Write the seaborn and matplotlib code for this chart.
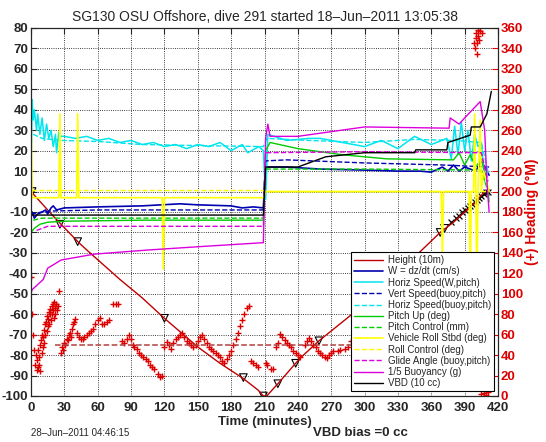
import numpy as np
import pandas as pd
import matplotlib
matplotlib.use('Agg')
import matplotlib.pyplot as plt
import seaborn as sns

# ---- data (time in minutes) ----
t_height = [0, 5, 10, 20, 27, 43, 51, 80, 100, 120, 150, 170, 191, 204, 209, 212, 222, 238, 243, 259, 275, 291, 320, 345, 368, 380, 390, 400, 408]
height = [0, -3, -6, -12, -16, -25, -29, -43, -52, -62, -76, -84, -91.5, -97, -100, -100, -94, -84, -81, -73, -66, -59, -44, -32, -20, -15, -10, -5, 0]

t_mark = [1, 26, 42, 120, 191, 209, 222, 238, 259, 368, 372]
v_mark = [0, -16, -24.5, -62, -91, -100, -94, -84, -73, -20, -18]
t_cluster = [378, 382, 385, 388, 390, 393, 395, 397, 399, 401, 403, 405, 407, 409, 411]
v_cluster = [-15, -13, -12, -10, -9, -8, -7, -6, -5, -4, -3, -2, -1, 0, 0]

t_w = [0, 1, 3, 6, 10, 13, 15, 18, 20, 23, 30, 60, 100, 134, 150, 180, 190, 200, 209, 210, 212, 230, 260, 300, 330, 350, 360, 370, 375, 380, 385, 390, 395, 400, 405, 410, 412]
w = [-12, -10, -13, -11, -10, -9, -11, -8, -7, -9, -8, -7.5, -7, -6, -6.5, -7, -8, -7.5, -8, 5, 12, 12, 11, 10.5, 10, 10, 9.5, 12, 10, 13, 10, 12, 11, 10, 15, 10, 8]

t_vs = [0, 10, 20, 60, 120, 209, 211, 230, 300, 370, 412]
vs = [-11, -10, -9.5, -9, -9, -9, 15, 15.5, 14, 13, 12]

t_hs = [0, 1, 2, 3, 5, 6, 8, 10, 12, 14, 16, 18, 20, 22, 23, 25, 27, 30, 40, 50, 60, 70, 80, 90, 100, 110, 120, 130, 140, 150, 160, 170, 180, 190, 195, 205, 209, 211, 213, 230, 250, 260, 280, 300, 315, 330, 345, 360, 374, 378, 381, 384, 387, 390, 393, 396, 399, 402, 405, 408, 411]
hs = [10, 45, 35, 40, 30, 38, 28, 36, 25, 33, 26, 30, 22, 28, 19, 29, 27, 27, 26, 27, 25, 26, 24, 25, 23, 24, 22, 23, 21, 23, 22, 24, 20, 23, 19, 22, 20, -4, 28, 25, 26, 26, 24, 22, 25, 21, 27, 23, 26, 16, 32, 18, 34, 20, 30, 15, 28, 22, 24, 5, 10]

t_hsb = [2, 10, 27, 60, 100, 150, 209, 212, 250, 300, 345, 380, 405, 411]
hsb = [28, 26, 25, 24.5, 23, 22.5, 22, 26, 25, 24, 25.5, 25, 24, 10]

t_pitch = [0, 3, 8, 15, 30, 100, 209, 211, 215, 240, 280, 320, 380, 385, 390, 395, 400, 405, 410, 412]
pitch = [-20, -18, -16, -15, -14.5, -14, -14, 20, 24, 21, 18, 16, 15.5, 19, 13, 18, 12, 16, 5, -5]

t_pc = [2, 10, 209, 211, 300, 405, 411]
pc = [-14, -13, -13, 11, 11, 10.5, 0]

t_roll = [0, 1, 2, 25, 26, 27, 41, 42, 43, 118, 119, 120, 209, 211, 369, 370, 371, 394, 395, 396, 398, 399, 400, 401, 402, 404, 405, 407, 412]
roll = [40, -3, -3, -3, 38, -3, -3, 38, -3, -3, -38, -3, -3, 0, 0, -32, 0, 0, -48, 0, 0, 38, 0, -48, 0, 35, 0, 10, 0]

t_rc = [1, 209, 211, 412]
rc = [0.5, 0.5, 0, 0]

t_glide = [5, 15, 209, 211, 300, 405, 411]
glide = [-19, -17, -17, 19, 19.5, 19, 5]

t_buoy = [0, 0, 1, 11, 15, 27, 57, 105, 150, 209, 211, 213, 215, 240, 300, 376, 377, 385, 390, 404, 408, 410, 412]
buoy = [-100, -50, -48, -43, -37.5, -33.5, -30.6, -28.6, -27, -25, 26, 33, 27, 27, 31.6, 31, 36, 33, 36, 44, 30, 5, -10]

t_vbd = [0, 209, 211, 240, 265, 300, 345, 346, 374, 375, 395, 396, 404, 410, 414]
vbd = [-11.5, -11.5, 12, 12, 17, 19, 19, 20.4, 20.4, 24, 27.6, 31.6, 31.6, 38, 49]

t_head = [0, 1, 2, 3, 4, 4.5, 5, 5.5, 6, 6.5, 7, 7.5, 8, 8.5, 9, 9.5, 10, 10.5, 11, 11.5, 12, 12.5, 13, 13.5, 14, 14.5, 15, 15.5, 16, 16.5, 17, 17.5, 18, 18.5, 19, 19.5, 20, 20.5, 21, 21.5, 22, 22.5, 23, 24, 25,
          27, 28, 29, 30, 31, 32, 33, 34, 35, 36, 37, 38, 39, 40, 41, 43, 45, 47, 48, 50, 52, 54, 56, 58, 60, 62, 64, 66, 68, 70, 74, 76, 78,
          82, 84, 86, 88, 90, 92, 93, 95, 97, 99, 101, 103, 105, 107, 109, 111, 114, 116, 118, 120, 122, 124, 126, 128, 130, 132, 134, 136, 138, 140,
          142, 144, 146, 148, 150, 152, 154, 156, 158, 160, 162, 164, 166, 168, 170, 172, 174, 176, 178, 180, 182, 184, 186, 188, 190, 192, 194, 196,
          198, 200, 202, 204, 211, 212, 216, 218, 220, 222, 224, 226, 228, 230, 232, 234, 236, 238, 240, 242, 246, 248, 250, 252, 254, 256, 258, 260,
          262, 264, 266, 268, 270, 272, 276, 278, 282, 285, 288,
          398, 399, 400, 400, 401, 401, 402, 402, 403, 404, 406, 405, 407, 409, 411]
heading = [116, 80, 60, 45, 30, 40, 25, 35, 28, 45, 30, 38, 50, 24, 55, 42, 60, 48, 58, 65, 52, 70, 60, 72, 64, 78, 68, 75, 82, 70, 80, 85, 74, 88, 80, 90, 84, 76, 92, 86, 80, 90, 84, 88, 103,
           42, 48, 45, 52, 50, 56, 55, 60, 62, 58, 66, 70, 72, 75, 62, 58, 56, 56, 58, 60, 62, 64, 66, 70, 74, 76, 70, 70, 72, 74, 90, 90, 90,
           54, 52, 56, 60, 56, 50, 48, 46, 42, 40, 38, 36, 34, 30, 28, 26, 22, 19, 20, 48, 53, 50, 46, 52, 56, 58, 60, 62, 58, 54,
           52, 50, 48, 50, 54, 58, 60, 56, 52, 48, 46, 44, 42, 40, 38, 34, 32, 36, 40, 44, 50, 56, 62, 68, 74, 80, 86, 88,
           34, 32, 30, 28, 32, 30, 26, 26, 48, 52, 61, 58, 55, 52, 50, 48, 44, 42, 40, 38, 50, 54, 57, 54, 50, 48, 44, 42,
           40, 38, 37, 40, 42, 44, 44, 45, 46, 48, 54,
           345, 340, 350, 355, 345, 335, 352, 358, 348, 357, 355, 2, 3, 1, 4]

t_head_cmd = [22, 405]
head_cmd = [50, 50]

sns.set_style('white')
plt.rcParams['font.family'] = ['Liberation Sans', 'DejaVu Sans']
plt.rcParams['axes.unicode_minus'] = False

fig = plt.figure(figsize=(5.46, 4.42), dpi=100)
ax = fig.add_axes([31 / 546, 1 - 396 / 442, 467 / 546, 368 / 442])
ax2 = ax.twinx()

sns.lineplot(x=t_height, y=height, ax=ax, color='#c00000', lw=1, estimator=None, sort=False, label='Height (10m)')
sns.lineplot(x=t_w, y=w, ax=ax, color='#0000b0', lw=1.2, estimator=None, sort=False, label='W = dz/dt (cm/s)')
sns.lineplot(x=t_hs, y=hs, ax=ax, color='#00e5ee', lw=1.1, estimator=None, sort=False, label='Horiz Speed(W,pitch)')
sns.lineplot(x=t_vs, y=vs, ax=ax, color='#0000b0', lw=1, ls='--', estimator=None, sort=False, label='Vert Speed(buoy,pitch)')
sns.lineplot(x=t_hsb, y=hsb, ax=ax, color='#00e5ee', lw=1, ls='--', estimator=None, sort=False, label='Horiz Speed(buoy,pitch)')
sns.lineplot(x=t_pitch, y=pitch, ax=ax, color='#00cc00', lw=1, estimator=None, sort=False, label='Pitch Up (deg)')
sns.lineplot(x=t_pc, y=pc, ax=ax, color='#00cc00', lw=1, ls='--', estimator=None, sort=False, label='Pitch Control (mm)')
sns.lineplot(x=t_roll, y=roll, ax=ax, color='#ffff00', lw=1.2, estimator=None, sort=False, label='Vehicle Roll Stbd (deg)')
sns.lineplot(x=t_rc, y=rc, ax=ax, color='#ffff00', lw=1, ls='--', estimator=None, sort=False, label='Roll Control (deg)')
sns.lineplot(x=t_glide, y=glide, ax=ax, color='#dd00dd', lw=1, ls='--', estimator=None, sort=False, label='Glide Angle (buoy,pitch)')
sns.lineplot(x=t_buoy, y=buoy, ax=ax, color='#dd00dd', lw=1, estimator=None, sort=False, label='1/5 Buoyancy (g)')
sns.lineplot(x=t_vbd, y=vbd, ax=ax, color='black', lw=1, estimator=None, sort=False, label='VBD (10 cc)')

# markers on the height trace
sns.scatterplot(x=t_mark, y=v_mark, ax=ax, marker='v', s=30, facecolor='none', edgecolor='black', linewidth=0.8, legend=False)
sns.scatterplot(x=t_cluster, y=v_cluster, ax=ax, marker='x', s=18, color='black', linewidth=0.9, legend=False)

# heading on right axis
sns.scatterplot(x=t_head, y=heading, ax=ax2, marker='+', s=16, color='#dd0000', linewidth=1.0, legend=False)
sns.lineplot(x=t_head_cmd, y=head_cmd, ax=ax2, color='#b04040', lw=1.1, ls='--', estimator=None, legend=False)

ax.set_xlim(0, 420)
ax.set_ylim(-100, 80)
ax2.set_ylim(0, 360)
ax.set_xticks(np.arange(0, 421, 30))
ax.set_yticks(np.arange(-100, 81, 10))
ax2.set_yticks(np.arange(0, 361, 20))
ax.grid(True, color='black', ls=':', lw=0.6)

ax.tick_params(direction='in', length=4, labelsize=9.5, top=True, right=False, pad=2)
ax.tick_params(axis='x', pad=4)
ax2.tick_params(direction='in', length=4, labelsize=9.5, colors='#dd0000', pad=2)
for lab in ax.get_xticklabels() + ax.get_yticklabels():
    lab.set_fontweight('bold')
for lab in ax2.get_yticklabels():
    lab.set_fontweight('bold')
    lab.set_color('#dd0000')
for sp in ax.spines.values():
    sp.set_color('black')
    sp.set_linewidth(0.8)

ax.set_xlabel('Time (minutes)', fontsize=9.5, fontweight='bold', labelpad=2)
ax.set_ylabel('')
ax2.set_ylabel('(+) Heading (\u00b0M)', fontsize=10, fontweight='bold', color='#dd0000', labelpad=1)
ax.set_title('SG130 OSU Offshore, dive 291 started 18\u2013Jun\u20132011 13:05:38', fontsize=10, pad=5)

handles, labels = ax.get_legend_handles_labels()
ax.get_legend().remove()
leg = ax2.legend(handles, labels, loc='lower right', bbox_to_anchor=((494 - 31) / 467, 5 / 368), bbox_transform=ax.transAxes,
                 fontsize=7, frameon=True, fancybox=False, edgecolor='black', framealpha=1,
                 borderpad=0.3, labelspacing=0.12, handlelength=3.0, handletextpad=0.5, borderaxespad=0)
leg.get_frame().set_linewidth(0.8)
ax.set_xlim(0, 420)

fig.text(31 / 546, 1 - 433 / 442, '28\u2013Jun\u20132011 04:46:15', fontsize=7, va='center', ha='left')
fig.text(313 / 546, 1 - 433 / 442, 'VBD bias =0 cc', fontsize=9.5, fontweight='bold', va='center', ha='left')

fig.savefig('out.png', dpi=100)
